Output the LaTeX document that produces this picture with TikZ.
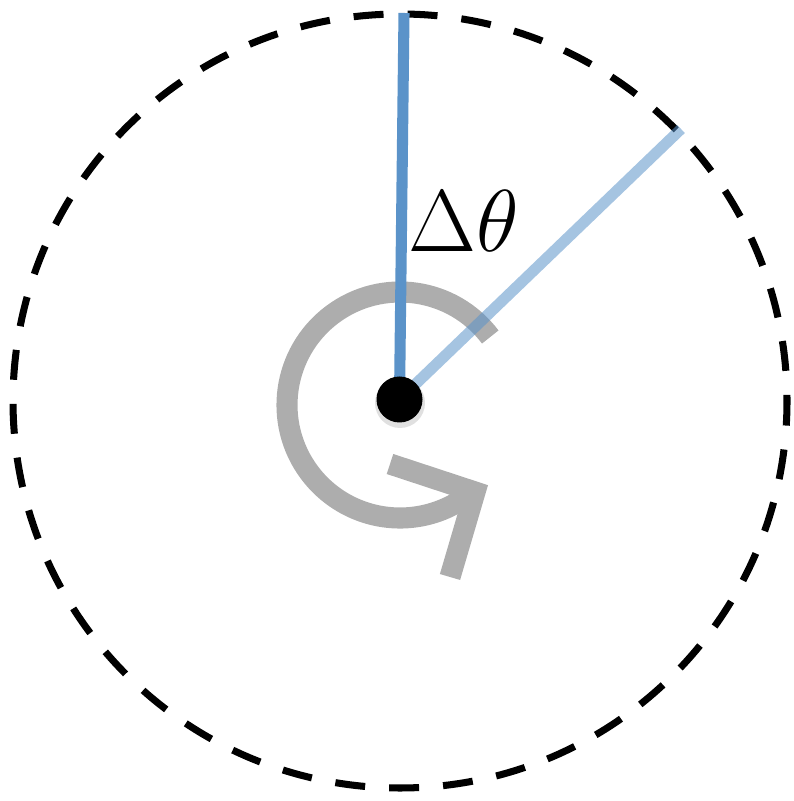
\documentclass[tikz,border=0pt]{standalone}
\begin{document}
\begin{tikzpicture}[x=0.02cm,y=0.02cm,
  dashring/.style={draw=black, line width=4pt, dash pattern=on 17.07pt off 13.68pt, dash phase=13.57pt},
  turnarc/.style={draw=gray173, line width=12pt, line cap=butt, line join=miter},
  rayA/.style={draw=rayblue, line width=6.3pt, line cap=butt},
  rayB/.style={draw=rayblue, draw opacity=0.55, line width=6.3pt, line cap=butt}]
\definecolor{gray173}{RGB}{173,173,173}
\definecolor{rayblue}{RGB}{91,147,201}
\useasboundingbox (0,0) rectangle (794,801);
\coordinate (C) at (400,400);
\coordinate (D) at (399.5,401.5);
\coordinate (top) at (404,788);
\coordinate (tip) at (681,672);
\coordinate (a1) at (390,337);
\coordinate (av) at (475,309);
\coordinate (a2) at (450,224);
% dashed ring
\draw[dashring] (C) circle[radius=387];
% gray rotation arc with open arrow
\draw[turnarc] (400,396) ++(37:113) arc[start angle=37, end angle=311, radius=113];
\draw[turnarc] (a1) -- (av) -- (a2);
% rays
\draw[rayA] (D) -- (top);
\draw[rayB] (D) -- (tip);
% centre dot with faint shadow
\fill[black, opacity=0.12] (400,398) circle[radius=25];
\node[circle, fill=black, minimum size=0.92cm, inner sep=0pt] (dot) at (D) {};
% label
\node[anchor=base west, inner sep=0pt, scale=2.01, font=\fontsize{24.88}{30}\selectfont] (lbl) at (408,549) {$\Delta\theta$};
\end{tikzpicture}
\end{document}
